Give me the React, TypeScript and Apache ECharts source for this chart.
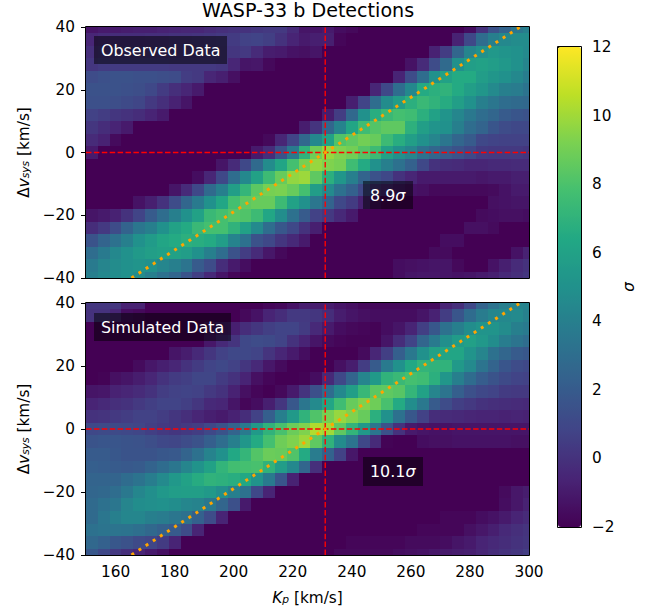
import React, { useEffect, useRef } from "react";
import * as echarts from "echarts";

const FONT = "DejaVu Sans";
const kpEdges = Array.from({ length: 38 }, (_, i) => 150 + 4 * i);
const vsysCentres = Array.from({ length: 21 }, (_, i) => 40 - 4 * i);
const kpTicks = [160, 180, 200, 220, 240, 260, 280, 300];
const viridis = ["#440154", "#482475", "#414487", "#355f8d", "#2a788e", "#21918c", "#22a884", "#44bf70", "#7ad151", "#bddf26", "#fde725"];
const kpTrue = 231;
const trail = [[165.4, -40], [231, 0], [297, 40]];

const observed = [
  [-1.2,-1,-1,-0.9,-0.8,-0.8,-0.7,-0.6,-0.5,-0.5,-0.3,-0.1,0,0,0.2,0.3,0.3,-0.3,-1.2, -1.2,-1,-1.5,-1.7,-2,-2,-2,-2,-2,-2,-2,-2,-2,-1.5,0,1.5,2.5,3.5,4],
  [-0.5,-0.3,-0.2,-0.2,-0.2,-0.1,-0.1,0,0,0.1,0.2,0.3,0.4,0.7,0.8,0.6,0,-0.6,-1, -0.8,-0.8,-1.8,-2,-2,-2,-2,-2,-2,-2,-2,-2,-0.7,1,3,4,4.5,4.7,4.7],
  [-0.1,0,0,0,0,0,0,0,0,0,0.1,0.2,0.2,0.3,-0.3,-0.9,-1,-1.3,-1.4, -1.2,-2,-2,-2,-2,-2,-2,-2,-2,-2,-0.7,0.5,2.6,4.3,5,5.4,5.2,5,4.6],
  [0.2,0.4,0.4,0.4,0.4,0.4,0.4,0.3,0.3,0.3,0.3,0.2,-0.5,-1.2,-1.1,-1.7,-2,-2,-2, -2,-2,-2,-2,-2,-2,-2,-2,-1.3,-0.3,1.2,2.8,5,5.8,6,5.7,5.4,5,4.3],
  [1.2,1.4,1.5,1.5,1.4,1.4,1.3,1.2,0.5,0.3,-0.5,-0.8,-1.4,-2,-2,-2,-2,-2,-2, -2,-2,-2,-2,-2,-2,-2,-0.6,1.2,3,5,6,6.5,6.5,5.7,5.3,5,4.5,3.9],
  [1.5,1.5,1.5,1.4,1.3,1,0.4,-0.1,-0.5,-1,-2,-2,-2,-2,-2,-2,-2,-2,-2, -2,-2,-2,-2,-2,-0.5,1,3,4.5,6.5,6.8,7,6.5,5.8,5.3,4.6,4,3.8,3.3],
  [1.4,1.4,1.3,1.1,0.9,0.3,-0.1,-0.7,-1.2,-2,-2,-2,-2,-2,-2,-2,-2,-2,-2, -2,-2,-2,-0.8,0.8,3,4.7,5.7,6.8,7.4,7,6.6,5.8,5,4,3.5,3,2.8,2.7],
  [0.7,0.5,0.2,0,-0.2,-0.6,-1,-2,-2,-2,-2,-2,-2,-2,-2,-2,-2,-2,-2, -2,-0.9,0.5,2.7,5,6.7,7.4,7.8,7.6,6.8,6,5.2,4.4,3.6,3,2.6,2,1.7,1.5],
  [0.2,-0.2,-0.6,-1,-2,-2,-2,-2,-2,-2,-2,-2,-2,-2,-2,-2,-2,-2,-0.9, 0.1,2.6,4.2,6.2,7.6,8.2,8.5,8.5,6.9,5.8,5.2,5,4,3,2.5,1.7,1.2,1,1],
  [-0.3,-0.7,-1.6,-2,-2,-2,-2,-2,-2,-2,-2,-2,-2,-2,-2,-1.7,-0.5,0.8,2.7, 4.5,6,8.1,8.5,9,8.7,7.5,6.7,5.8,5,4.3,3.5,2.6,2,1,0.8,0.7,0.7,0.7],
  [-1,-2,-2,-2,-2,-2,-2,-2,-2,-2,-2,-2,-2,-2,-1,-0.2,1.5,3.7,7, 8.9,9.8,9.3,9,8.2,7.5,6,5,4.3,3.2,2.6,2,1.5,1,0.4,0.3,0.3,0.3,0.2],
  [-2,-2,-2,-2,-2,-2,-2,-2,-2,-2,-2,-1.2,-0.3,1,2.8,4.7,6.2,7.8,9.1, 9.8,9.3,9.1,7.6,6.5,5,4,3.2,2.3,1,0,-0.2,-0.3,-0.5,-0.5,-0.4,-0.4,-0.3,-0.3],
  [-2,-2,-2,-2,-2,-2,-2,-2,-2,-1.5,-0.5,1,3,4.5,6,7.5,8.7,9.7,9.9, 8.5,6.8,5.3,4,2.5,1.5,1,0,-0.5,-1,-1,-1,-1,-1,-1.1,-1,-1,-0.8,-0.8],
  [-2,-2,-2,-2,-2,-2,-2,-1.2,-0.3,1,2.8,4,5.8,7.2,8.4,9.1,9.2,8.7,7.8, 5.7,4.6,3.2,2.3,1,0,-0.5,-1,-1.3,-1.4,-1.7,-1.7,-1.7,-1.7,-1.7,-1.6,-1.3,-1,-1],
  [-2,-2,-2,-2,-1.3,-0.8,0,1.2,2.6,3.7,5,6.3,7.8,8.5,8.7,8.7,7.5,6,5, 3.5,2.4,1,0.4,-0.7,-1.5,-2,-2,-2,-2,-2,-2,-2,-2,-2,-1.4,-1.3,-1.2,-1.2],
  [-1.2,-1,-0.7,0,0.8,2,3,4,5,6,7.4,7.8,8.3,8.1,7.5,6.3,4.8,3.2,2, 0.7,0.3,-0.4,-1,-2,-2,-2,-2,-2,-2,-2,-2,-2,-2,-1.6,-1.5,-1.4,-1.4,-1.5],
  [-0.2,0.3,1.2,2.4,3.5,4,5,6,6.5,7.4,7.8,7.8,7,6,4.6,3,1.8,1,0, -0.8,-2,-2,-2,-2,-2,-2,-2,-2,-2,-2,-2,-2,-1.4,-1.4,-1.6,-2,-2,-2],
  [1.6,2.5,3.2,4,5,5.6,6.2,6.5,6.8,6.7,6.5,5.7,4.2,3.2,1.5,1,0.2,-0.4,-1, -2,-2,-2,-2,-2,-2,-2,-2,-2,-2,-2,-1.5,-1.5,-2,-2,-2,-2,-2,-2],
  [3,3.7,4.5,5,5.5,5.8,6,6,5.7,5,4,3,1.5,0.5,-0.3,-1.1,-1.7,-2,-2, -2,-2,-2,-2,-2,-2,-2,-2,-2,-2,-1.6,-1.6,-2,-2,-2,-2,-2,-1.3,-0.7],
  [3.7,4.3,4.7,5,5.2,5,4.4,4,3.4,2,1.2,-0.2,-1,-1.5,-2,-2,-2,-2,-2, -2,-2,-2,-2,-2,-2,-2,-1.5,-1.4,-1.3,-1.2,-1.2,-1.7,-2,-2,-1.3,-0.8,-0.3,0],
  [4,4.5,4.8,5,4.7,4,3.2,2.6,1.6,0.6,-0.4,-1.2,-1.8,-2,-2,-2,-2,-2,-2, -2,-2,-2,-2,-2,-2,-2,-1.5,-1.2,-1.1,-1.1,-1.2,-1.3,-1.2,-1,-0.8,-0.4,-0.1,0.2],
];

const simulated = [
  [0.2,0.2,0.2,-0.7,-0.7,-2,-2,-2,-2,-2,-2,-2,-2,-2,-2,-1.8,-1.7,-1.3,-0.9, -0.9,-0.9,-1.2,-1.4,-1.7,-1.7,-1.7,-1.7,-1.7,-1.7,-1.6,-0.6,-0.1,1,2.5,3.3,4,4.3,4.2],
  [0,0,-0.5,-1.5,-1.7,-2,-2,-2,-2,-2,-2,-2,-2,-1.7,-1.3,-0.6,-0.2,0.3,0.3, 0.2,-0.2,-0.9,-1.2,-1.4,-1.5,-1.5,-1.5,-1.5,-1.2,-0.7,0.5,1.7,2.9,3.8,4.4,4.5,4.6,4.1],
  [-2,-2,-2,-2,-2,-2,-2,-2,-2,-2,-1.3,-1,-0.8,-0.2,0.2,0.6,0.8,0.8,0.4, -0.4,-1,-1.5,-1.7,-1.8,-1.9,-1.5,-1.2,-0.6,0.6,1.8,3.2,4,4.8,5.2,5.2,4.7,4,3.7],
  [-2,-2,-2,-2,-2,-2,-2,-2,-2,-2,-1.1,-0.4,0.1,1,1.2,1.1,0.8,0,-0.6, -1.2,-1.6,-1.8,-1.9,-1.9,-1.9,-1.2,-0.2,0.8,2.6,3.7,4.9,5.6,5.9,5.4,4.8,3.9,3.4,3],
  [-2,-2,-2,-2,-2,-2,-2,-1.2,-0.9,-0.4,0.2,0.7,1,1,0.8,0.1,-0.5,-1,-1.5, -2,-2,-2,-2,-1.6,-0.5,0.6,2.2,3.6,5,6,6.2,6.2,5.2,4.3,3.2,2.6,2,1.8],
  [-2,-2,-2,-2,-1.6,-1.1,-0.8,-0.5,0,0.4,0.8,1,0.7,0.2,-0.4,-1.1,-1.6,-2,-2, -2,-2,-1.4,-0.9,0.5,2,3.7,5,6.4,7.1,7,7,5.5,4.6,3.4,2.5,1.7,1.2,1],
  [-2,-1.9,-1.4,-1.2,-0.9,-0.5,0,0.4,0.6,0.9,0.9,0.4,0,-0.6,-1.4,-1.8,-2,-2,-1.9, -1.5,-0.4,1,2.5,4.3,5.5,7,7.4,7.8,7.6,6.8,5.3,4,2.9,2.1,1.6,1.1,0.8,0.7],
  [-1.2,-1.1,-0.7,-0.5,-0.3,0,0.5,0.7,0.8,0.7,0.3,0,-0.7,-1.4,-1.8,-2,-1.7,-1,0.1, 1.4,2.9,4.5,5.8,7.3,8.4,8.5,8.3,7.2,6,4.3,3.4,2.2,1.4,1,0.8,0.4,0.3,0.3],
  [-0.6,-0.4,-0.1,0,0.3,0.6,0.8,0.8,0.6,0.2,-0.4,-0.5,-1.2,-1.8,-1.5,-0.8,0.2,1.8,3.5, 4.6,6.2,7.6,8.7,9.3,8.9,7.9,6.5,4.8,3.6,2,1.2,0.6,0.3,0,-0.1,-0.2,-0.3,-0.4],
  [0,0.1,0.3,0.5,0.7,0.7,0.5,0.2,-0.1,-0.5,-0.8,-1,-0.7,-0.2,0.7,2.2,4,5.5,7, 8.1,9.1,9.8,9.3,8.7,6.8,5,3.2,1.8,0.7,-0.2,-0.3,-0.4,-0.5,-0.6,-0.6,-0.7,-0.6,-0.7],
  [1,1.1,1.1,1,0.9,0.6,0.3,0.2,0.3,0.5,1,1.6,2.5,3.7,5.5,7,7.9,8.8,9.3, 10.3,10,8.5,7.1,5.5,3.5,1.5,0,-1,-1.2,-1.3,-1.3,-1.2,-1.2,-1.2,-1.2,-1.2,-1.2,-1.2],
  [1.6,1.7,1.7,1.6,1.5,1.3,1,0.9,1.2,1.5,2.2,3,4,5.3,6.5,7.8,8.9,9.3,9.9, 8.5,7,4.7,3.4,1,-0.3,-1.9,-2,-2,-1.5,-1.4,-1.4,-1.3,-1.3,-1.3,-1.3,-1.3,-1.4,-1.4],
  [2,2,1.8,1.6,1.6,1.6,1.8,1.9,2.5,3.2,4.2,5,6.4,7.2,8.2,8.8,8.7,8.1,6.5, 3.8,2.4,0.7,-1.1,-2,-2,-2,-2,-2,-2,-2,-2,-2,-2,-2,-2,-2,-2,-2],
  [2.2,2.1,2,1.9,2,2.4,2.9,3.5,4.3,5.1,6,7.1,7.7,7.8,7.9,7,5.7,4.5,2.6, -0.1,-2,-2,-2,-2,-2,-2,-2,-2,-2,-2,-2,-2,-2,-2,-2,-2,-2,-2],
  [2.5,2.5,2.5,2.9,3.3,3.9,4.6,5.4,6,6.6,7,6.9,6.7,6.4,5.2,3.7,1.7,-0.7,-2, -2,-2,-2,-2,-2,-2,-2,-2,-2,-2,-2,-2,-2,-2,-2,-2,-2,-2,-2],
  [2.6,2.7,3,3.6,4.4,4.9,5.4,5.7,5.8,5.8,5.5,4.9,4,3.2,1,-0.6,-2,-2,-2, -2,-2,-2,-2,-2,-2,-2,-2,-2,-2,-2,-2,-2,-2,-2,-2,-1.6,-1.1,-0.9],
  [2.8,3.2,3.5,4.3,4.8,4.9,5,4.8,4.4,4.2,3.6,2.6,1.4,-1,-2,-2,-2,-2,-2, -2,-2,-2,-2,-2,-2,-2,-2,-2,-2,-2,-2,-2,-2,-2,-2,-1.5,-1.1,-0.7],
  [2.8,3.5,4,4.4,4.4,4,3.8,3.5,3.2,2.3,1.2,-0.6,-2,-2,-2,-2,-2,-2,-2, -2,-2,-2,-2,-2,-2,-2,-2,-2,-2,-2,-1.8,-1.8,-1.8,-1.5,-1.3,-1,-0.6,-0.3],
  [3.2,3.4,3.4,3.3,3.1,2.7,2.3,2,1.2,-0.6,-2,-2,-2,-2,-2,-2,-2,-2,-2, -2,-2,-2,-2,-2,-2,-2,-2,-2,-1.8,-1.8,-1.8,-1.8,-1.4,-1.1,-0.8,-0.4,-0.1,0.1],
  [2.7,2.3,1.8,1.5,1.1,0.9,0.4,-0.6,-2,-2,-2,-2,-2,-2,-2,-2,-2,-2,-2, -2,-2,-2,-1.8,-1.8,-1.8,-1.8,-1.8,-1.6,-1.6,-1.6,-1.5,-1.2,-1,-0.6,-0.4,-0.2,0,0.2],
  [1.8,1,0.3,-0.1,-0.5,-1,-1.4,-2,-2,-2,-2,-2,-2,-2,-2,-2,-2,-2,-2, -2,-2,-1.7,-1.7,-1.7,-1.7,-1.7,-1.5,-1.4,-1.3,-1.1,-1,-0.9,-0.8,-0.5,-0.2,0,0.2,0.5],
];

const toTriples = (rows: number[][]) =>
  rows.flatMap((row, r) => row.map((val, c) => [kpEdges[c], vsysCentres[r], val]));

const renderCell = (params: any, api: any) => {
  const box = params.coordSys;
  const kp = api.value(0);
  const v = api.value(1);
  const a = api.coord([kp, v + 2]);
  const b = api.coord([kp + 4, v - 2]);
  const x0 = Math.round(Math.max(a[0], box.x));
  const x1 = Math.round(Math.min(b[0], box.x + box.width));
  const y0 = Math.round(Math.max(a[1], box.y));
  const y1 = Math.round(Math.min(b[1], box.y + box.height));
  return {
    type: "rect",
    shape: { x: x0, y: y0, width: x1 - x0, height: y1 - y0 },
    style: { fill: api.visual("color") },
  };
};

const PLOT_L = 86, PLOT_R = 529;
const TICK_FS = 15.3;
const LABEL_FS = 15.9;
const panels = [
  { top: 27, bottom: 278 },
  { top: 303, bottom: 555 },
];
const RICH = {
  it: { fontFamily: FONT, fontSize: TICK_FS, fontStyle: "italic", color: "#000", verticalAlign: "bottom", lineHeight: 20 },
  sub: { fontFamily: FONT, fontSize: 10.7, fontStyle: "italic", color: "#000", verticalAlign: "bottom", lineHeight: 14 },
  r: { fontFamily: FONT, fontSize: TICK_FS, color: "#000", verticalAlign: "bottom", lineHeight: 20 },
};

const labelBox = (x: number, y: number, w: number, h: number, rich: string) => [
  { type: "rect", z: 50, shape: { x, y, width: w, height: h }, style: { fill: "rgba(0,0,0,0.5)" } },
  {
    type: "text", z: 51, x: x + 7, y: y + h / 2,
    style: {
      text: rich,
      fill: "#fff",
      font: `${LABEL_FS}px "${FONT}"`,
      verticalAlign: "middle",
      rich: {
        w: { fontFamily: FONT, fontSize: LABEL_FS, fill: "#fff", color: "#fff" },
        s: { fontFamily: FONT, fontSize: LABEL_FS, fontStyle: "italic", fill: "#fff", color: "#fff" },
      },
    },
  },
];

const option: any = {
  animation: false,
  backgroundColor: "#fff",
  textStyle: { fontFamily: FONT },
  title: {
    text: "WASP-33 b Detections",
    left: 308, top: 1, padding: 0, textAlign: "center",
    textStyle: { fontFamily: FONT, fontSize: 19.1, fontWeight: "normal", color: "#000" },
  },
  grid: [
    { left: PLOT_L, width: PLOT_R - PLOT_L, top: panels[0].top, height: panels[0].bottom - panels[0].top },
    { left: PLOT_L, width: PLOT_R - PLOT_L, top: panels[1].top, height: panels[1].bottom - panels[1].top },
    { left: 558, width: 23, top: 47, height: 480 },
  ],
  xAxis: [0, 1].map((i) => ({
    type: "value", gridIndex: i, min: 150, max: 300,
    splitLine: { show: false },
    axisLine: { show: false },
    axisTick: { show: true, length: 5, lineStyle: { color: "#000", width: 1 }, customValues: kpTicks },
    axisLabel: {
      show: i === 1, color: "#000", fontFamily: FONT, fontSize: TICK_FS, margin: 9.5,
      customValues: kpTicks,
    },
    ...(i === 1
      ? {
          name: "{it|K}{sub|p}{r| [km/s]}",
          nameLocation: "middle",
          nameGap: 30,
          nameTextStyle: { rich: RICH },
        }
      : {}),
  })).concat([{ type: "value", gridIndex: 2, min: 0, max: 1, show: false } as any]),
  yAxis: [0, 1].map((i) => ({
    type: "value", gridIndex: i, min: -40, max: 40, interval: 20,
    splitLine: { show: false },
    axisLine: { show: false },
    axisTick: { show: true, length: 5, lineStyle: { color: "#000", width: 1 } },
    axisLabel: {
      color: "#000", fontFamily: FONT, fontSize: TICK_FS, margin: 11,
      formatter: (v: number) => String(v).replace("-", "\u2212"),
    },
    name: "{r|\u0394}{it|v}{sub|sys}{r| [km/s]}",
    nameLocation: "middle",
    nameGap: 55,
    nameRotate: 90,
    nameTextStyle: { rich: RICH },
  })).concat([{
    type: "value", gridIndex: 2, position: "right", min: -2, max: 12, interval: 2,
    splitLine: { show: false },
    axisLine: { show: false },
    axisTick: { show: true, length: 5, lineStyle: { color: "#000", width: 1 } },
    axisLabel: {
      color: "#000", fontFamily: FONT, fontSize: TICK_FS, margin: 11,
      formatter: (v: number) => String(v).replace("-", "\u2212"),
    },
    name: "\u03c3",
    nameLocation: "middle",
    nameGap: 40,
    nameRotate: 90,
    nameTextStyle: { fontFamily: FONT, fontSize: TICK_FS, fontStyle: "italic", color: "#000" },
  } as any]),
  visualMap: {
    type: "continuous", min: -2, max: 12, seriesIndex: [0, 1], dimension: 2,
    inRange: { color: viridis },
    orient: "vertical", left: 558, top: 47, itemWidth: 23, itemHeight: 480,
    padding: 0, text: null, showLabel: false, calculable: false, hoverLink: false, realtime: false,
  },
  series: [
    ...[observed, simulated].map((rows, i) => ({
      type: "custom", xAxisIndex: i, yAxisIndex: i, coordinateSystem: "cartesian2d",
      encode: { x: 0, y: 1 }, data: toTriples(rows), renderItem: renderCell, silent: true, z: 1,
    })),
    ...[0, 1].flatMap((i) => [
      {
        type: "line", xAxisIndex: i, yAxisIndex: i, data: [[kpTrue, -40], [kpTrue, 40]], showSymbol: false, silent: true, z: 3,
        lineStyle: { color: "#ff0000", width: 1.4, type: [5.5, 2.4] },
      },
      {
        type: "line", xAxisIndex: i, yAxisIndex: i, data: [[150, 0], [300, 0]], showSymbol: false, silent: true, z: 3,
        lineStyle: { color: "#ff0000", width: 1.4, type: [5.5, 2.4] },
      },
      {
        type: "line", xAxisIndex: i, yAxisIndex: i, data: trail, showSymbol: false, silent: true, z: 4,
        lineStyle: { color: "#ffa500", width: 3, type: [3, 5.5] },
      },
    ]),
  ],
  graphic: { elements: [
    ...panels.map((p) => ({
      type: "rect", z: 60, shape: { x: PLOT_L - 0.5, y: p.top - 0.5, width: PLOT_R - PLOT_L + 1, height: p.bottom - p.top + 1 },
      style: { fill: "none", stroke: "#000", lineWidth: 1 },
    })),
    {
      type: "rect", z: 60, shape: { x: 557.5, y: 46.5, width: 24, height: 481 },
      style: { fill: "none", stroke: "#000", lineWidth: 1 },
    },
    ...labelBox(94, 36, 133, 28, "{w|Observed Data}"),
    ...labelBox(363, 181, 50, 28, "{w|8.9}{s|\u03c3}"),
    ...labelBox(94, 313, 137, 28, "{w|Simulated Data}"),
    ...labelBox(363, 457, 60, 29, "{w|10.1}{s|\u03c3}"),
  ] },
};

export default function App() {
  const ref = useRef<HTMLDivElement>(null);
  useEffect(() => {
    const chart = echarts.init(ref.current!, null, { renderer: "svg" });
    chart.setOption(option);
    return () => chart.dispose();
  }, []);
  return <div ref={ref} style={{ position: "absolute", left: 0, top: 0, width: 655, height: 610 }} />;
}
